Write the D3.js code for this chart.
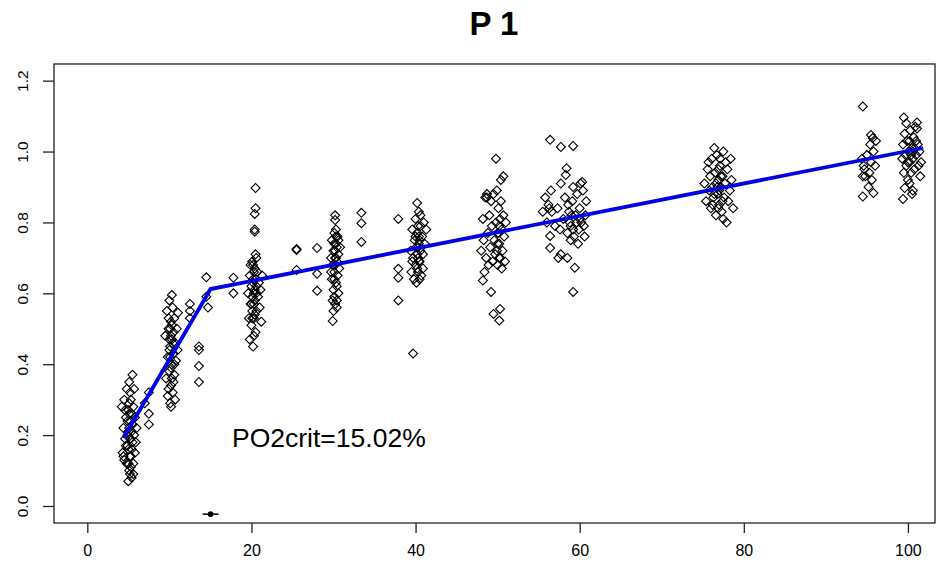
<!DOCTYPE html>
<html>
<head>
<meta charset="utf-8">
<script src="https://cdn.jsdelivr.net/npm/d3@7"></script>
<style>
  body { margin: 0; background: #fff; }
  text { font-family: "Liberation Sans", Arial, sans-serif; }
</style>
</head>
<body>
<div id="chart"></div>
<script>
// measured points, one list per oxygen level group [po2, rate]
var grp5 = [[4.2,0.28],[4.3,0.15],[4.4,0.22],[4.5,0.13],[4.5,0.3],[4.6,0.19],[4.7,0.25],[4.8,0.12],[4.8,0.33],[4.9,0.17],
  [5.0,0.21],[5.0,0.27],[5.1,0.1],[5.1,0.35],[5.2,0.14],[5.2,0.24],[5.3,0.19],[5.3,0.3],[5.4,0.08],[5.4,0.16],
  [5.5,0.23],[5.5,0.37],[5.6,0.12],[5.6,0.28],[5.7,0.2],[5.7,0.33],[5.8,0.15],[5.8,0.25],[5.9,0.18],[6.0,0.22],
  [4.6,0.27],[5.0,0.07],[5.2,0.32],[5.4,0.26],[4.9,0.2],[5.1,0.29],[4.4,0.14],[5.6,0.09],[5.3,0.11],[5.5,0.18],
  [5.0,0.16],[5.1,0.22],[5.2,0.19],[4.9,0.24],[5.3,0.14],[5.0,0.12],[5.4,0.21],[4.7,0.17],[5.1,0.26],[5.2,0.09],
  [7.5,0.32],[7.5,0.26],[7.5,0.23],[7.0,0.29]];
var grp10 = [[9.5,0.48],[9.6,0.36],[9.7,0.55],[9.8,0.42],[9.8,0.31],[9.9,0.5],[10.0,0.38],[10.0,0.58],[10.1,0.45],[10.1,0.29],
  [10.2,0.52],[10.2,0.34],[10.3,0.47],[10.3,0.4],[10.4,0.56],[10.4,0.32],[10.5,0.49],[10.5,0.43],[10.6,0.37],[10.6,0.53],
  [10.7,0.46],[10.7,0.3],[10.8,0.41],[10.9,0.5],[11.0,0.44],[9.9,0.33],[10.0,0.47],[10.3,0.595],[10.6,0.4],[10.2,0.28],
  [10.1,0.5],[10.2,0.48],[10.3,0.51],[10.0,0.44],[10.4,0.46],[10.1,0.42],[10.2,0.39],[10.5,0.35],[9.9,0.53],[10.3,0.36],
  [11.05,0.545],[12.5,0.57],[12.5,0.55],[12.5,0.53],[13.6,0.45],[13.6,0.44],[13.6,0.395],[13.6,0.35],
  [14.5,0.645],[14.5,0.59],[14.7,0.56],[17.8,0.644],[17.8,0.6]];
var grp20 = [[20.5,0.897],[20.5,0.84],[20.4,0.824],[20.4,0.78],[20.4,0.774],
  [19.6,0.6],[19.7,0.53],[19.8,0.65],[19.8,0.47],[19.9,0.57],[20.0,0.62],[20.0,0.51],[20.1,0.69],[20.1,0.55],[20.2,0.64],
  [20.2,0.45],[20.3,0.6],[20.3,0.53],[20.4,0.67],[20.4,0.58],[20.5,0.71],[20.5,0.49],[20.6,0.62],[20.6,0.55],[20.7,0.66],
  [20.8,0.59],[20.9,0.63],[21.0,0.56],[21.1,0.61],[21.2,0.52],[19.9,0.68],[20.3,0.48],[20.6,0.7],[21.3,0.65],[20.0,0.57],
  [20.2,0.63],[20.3,0.66],[20.4,0.61],[20.1,0.59],[20.5,0.64],[20.2,0.68],[20.3,0.57],[20.4,0.54],[20.1,0.53],[20.6,0.6],
  [25.5,0.722],[25.5,0.725],[25.5,0.666],[28.0,0.728],[28.0,0.655],[28.0,0.607]];
var grp30 = [[30.2,0.82],[30.2,0.807],[29.7,0.7],[29.8,0.64],[29.8,0.75],[29.9,0.58],[29.9,0.68],[30.0,0.72],[30.0,0.61],[30.1,0.77],
  [30.1,0.66],[30.2,0.57],[30.2,0.7],[30.3,0.74],[30.3,0.63],[30.4,0.69],[30.4,0.56],[30.5,0.76],[30.5,0.65],[30.6,0.71],
  [30.6,0.6],[30.7,0.67],[30.8,0.73],[30.0,0.55],[30.1,0.59],[30.3,0.78],[29.9,0.522],[30.4,0.62],[29.7,0.66],[30.6,0.75],
  [30.2,0.72],[30.3,0.7],[30.1,0.74],[30.4,0.73],[30.2,0.68],[30.3,0.76],[30.1,0.64],[30.4,0.58],
  [33.4,0.827],[33.4,0.798],[33.4,0.745],[37.9,0.81],[37.9,0.669],[37.9,0.644],[37.9,0.58]];
var grp40 = [[39.4,0.72],[39.5,0.66],[39.6,0.78],[39.7,0.43],[39.7,0.7],[39.8,0.64],[39.9,0.75],[40.0,0.68],[40.0,0.81],[40.1,0.73],
  [40.1,0.63],[40.2,0.77],[40.3,0.7],[40.3,0.66],[40.4,0.83],[40.4,0.74],[40.5,0.69],[40.6,0.79],[40.6,0.72],[40.7,0.65],
  [40.8,0.76],[40.9,0.71],[41.0,0.8],[41.1,0.74],[41.3,0.78],[40.2,0.855],[39.6,0.69],[40.5,0.64],[40.9,0.67],[40.0,0.76],
  [40.3,0.73],[40.4,0.76],[40.2,0.71],[40.5,0.75],[40.3,0.79],[40.4,0.69],[40.6,0.82],[40.2,0.67]];
var grp50 = [[49.8,0.98],[50.7,0.93],[50.4,0.92],[48.2,0.81],[48.2,0.636],[49.2,0.604],[50.3,0.556],[49.5,0.542],[50.2,0.523],
  [48.0,0.72],[48.3,0.75],[48.5,0.87],[48.6,0.7],[48.8,0.77],[48.9,0.68],[49.0,0.82],[49.1,0.73],[49.3,0.79],[49.4,0.69],
  [49.5,0.88],[49.6,0.75],[49.7,0.71],[49.8,0.8],[50.0,0.77],[50.0,0.68],[50.1,0.84],[50.2,0.74],[50.3,0.7],[50.4,0.86],
  [50.5,0.78],[50.6,0.72],[50.7,0.82],[50.8,0.76],[50.9,0.69],[51.0,0.8],[48.4,0.66],[49.9,0.89],[50.5,0.67],[49.2,0.86],
  [48.7,0.88],[48.7,0.87],[50.1,0.77],[50.2,0.79],[50.0,0.74],[50.3,0.81],[49.9,0.72],[50.2,0.7]];
var grp60 = [[56.4,1.033],[57.7,1.013],[59.2,1.016],[58.4,0.953],[58.3,0.934],[57.7,0.91],[59.2,0.9],[60.3,0.914],[56.4,0.762],[56.4,0.728],
  [57.4,0.7],[57.7,0.71],[58.5,0.7],[59.4,0.672],[59.2,0.604],
  [55.5,0.83],[55.8,0.87],[56.0,0.8],[56.2,0.85],[56.5,0.89],[56.6,0.83],[57.0,0.79],[57.3,0.84],[57.6,0.78],[58.0,0.81],
  [58.2,0.87],[58.5,0.77],[58.7,0.83],[58.9,0.79],[59.1,0.86],[59.3,0.76],[59.5,0.82],[59.7,0.88],[59.9,0.78],[60.0,0.84],
  [60.2,0.8],[60.4,0.89],[60.6,0.76],[60.7,0.82],[60.8,0.86],[59.8,0.74],[60.1,0.91],[58.9,0.75],[56.3,0.84],[60.5,0.79],
  [58.8,0.8],[59.0,0.82],[59.2,0.78],[58.6,0.85],[60.0,0.81],[59.6,0.8]];
var grp77 = [[75.2,0.91],[75.4,0.86],[75.6,0.95],[75.8,0.89],[75.9,0.93],[76.0,0.84],[76.1,0.98],[76.2,0.9],[76.3,0.87],[76.5,0.94],
  [76.6,0.82],[76.7,0.99],[76.8,0.88],[76.9,0.92],[77.0,0.85],[77.1,0.96],[77.2,0.9],[77.3,0.83],[77.4,0.93],[77.5,1.0],
  [77.6,0.87],[77.7,0.91],[77.9,0.8],[78.0,0.95],[78.1,0.86],[78.3,0.89],[78.5,0.92],[78.7,0.84],[76.4,1.01],[77.8,0.97],
  [75.7,0.97],[76.9,0.95],[77.5,0.81],[78.4,0.98],[76.2,0.85],
  [76.8,0.9],[77.0,0.89],[76.6,0.91],[77.2,0.93],[76.4,0.88],[77.4,0.86],[76.9,0.84],[77.1,0.98]];
var grp95 = [[94.5,1.127],[95.5,1.047],[95.7,1.038],[94.5,0.873],[95.8,0.883],
  [94.4,0.98],[94.5,0.93],[94.6,0.96],[94.7,0.95],[95.0,0.99],[95.3,0.94],[95.4,1.02],[95.5,0.97],[95.6,0.92],[95.8,1.0],
  [96.0,0.96],[96.1,1.03],[95.2,0.9],[94.8,0.93]];
var grp100 = [[99.5,1.096],[101.1,1.082],[99.4,0.866],[99.6,0.897],[100.6,0.89],
  [99.3,0.98],[99.4,1.02],[99.5,0.94],[99.6,1.05],[99.7,0.99],[99.8,0.96],[99.9,1.03],[100.0,0.92],[100.1,1.0],[100.2,0.97],
  [100.3,1.06],[100.4,0.94],[100.5,1.01],[100.6,0.98],[100.7,1.04],[100.8,0.95],[100.9,1.07],[101.0,0.99],[101.2,1.02],[101.3,0.96],
  [101.4,1.0],[101.5,0.93],[101.6,0.97],[100.2,0.91],[99.8,1.08],[101.1,1.065],[100.5,0.88],
  [100.4,0.99],[100.6,1.0],[100.2,1.03],[100.8,1.01],[100.0,0.97],[101.0,1.03]];

// broken-stick fit and the critical PO2 estimate
var fitX = [4.4, 15.02, 101.85];
var fitY = [0.192, 0.612, 1.01];
var crit = { x: 15.02, lo: 14.05, hi: 15.99, y: -0.023 };

var xTicks = [0, 20, 40, 60, 80, 100];
var yTicks = [0, 0.2, 0.4, 0.6, 0.8, 1.0, 1.2];

var W = 938, H = 564;
var box = { left: 54, right: 935, top: 64, bottom: 523 };

var svg = d3.select("#chart").append("svg")
  .attr("width", W)
  .attr("height", H);

var x = d3.scaleLinear().domain([-4.06, 103.3]).range([box.left, box.right]);
var y = d3.scaleLinear().domain([-0.048, 1.247]).range([box.bottom, box.top]);

var allPts = [].concat(grp5, grp10, grp20, grp30, grp40, grp50, grp60, grp77, grp95, grp100);

// title
svg.append("text")
  .attr("x", 494)
  .attr("y", 35)
  .attr("text-anchor", "middle")
  .style("font-size", "33px")
  .style("font-weight", "bold")
  .text("P 1");

// open diamonds, R pch=5 style
var diamond = d3.symbol().type(d3.symbolSquare).size(40);
svg.append("g").selectAll("path")
  .data(allPts)
  .enter().append("path")
  .attr("d", diamond)
  .attr("transform", function(d) { return "translate(" + x(d[0]) + "," + y(d[1]) + ") rotate(45)"; })
  .attr("fill", "none")
  .attr("stroke", "#000")
  .attr("stroke-width", 1.1);

// fitted line
var fit = fitX.map(function(v, i) { return [v, fitY[i]]; });
svg.append("path")
  .datum(fit)
  .attr("d", d3.line().x(function(d) { return x(d[0]); }).y(function(d) { return y(d[1]); }))
  .attr("fill", "none")
  .attr("stroke", "#0000e6")
  .attr("stroke-width", 3.8);

// critical value with its interval
svg.append("line")
  .attr("x1", x(crit.lo)).attr("x2", x(crit.hi))
  .attr("y1", y(crit.y)).attr("y2", y(crit.y))
  .attr("stroke", "#000")
  .attr("stroke-width", 1.5);
svg.append("circle")
  .attr("cx", x(crit.x))
  .attr("cy", y(crit.y))
  .attr("r", 2.8)
  .attr("fill", "#000");

svg.append("text")
  .attr("x", 232)
  .attr("y", 447)
  .style("font-size", "26.5px")
  .text("PO2crit=" + crit.x.toFixed(2) + "%");

// plot frame
svg.append("rect")
  .attr("x", box.left)
  .attr("y", box.top)
  .attr("width", box.right - box.left)
  .attr("height", box.bottom - box.top)
  .attr("fill", "none")
  .attr("stroke", "#222")
  .attr("stroke-width", 1.3);

// x axis (R style: ticks below the frame)
var xAxis = svg.append("g")
  .attr("transform", "translate(0," + box.bottom + ")")
  .call(d3.axisBottom(x).tickValues(xTicks).tickSize(10).tickPadding(12).tickFormat(d3.format("d")));
xAxis.select(".domain").remove();
xAxis.selectAll("line").attr("stroke", "#222").attr("stroke-width", 1.3);
xAxis.selectAll("text").style("font-size", "16px").attr("fill", "#000")
  .style("font-family", "'Liberation Sans', Arial, sans-serif");

// y axis with rotated labels
var yAxis = svg.append("g")
  .attr("transform", "translate(" + box.left + ",0)")
  .call(d3.axisLeft(y).tickValues(yTicks).tickSize(11).tickFormat(d3.format(".1f")));
yAxis.select(".domain").remove();
yAxis.selectAll("line").attr("stroke", "#222").attr("stroke-width", 1.3);
yAxis.selectAll("text").remove();
yAxis.selectAll(".tick").append("text")
  .attr("transform", "translate(-26,0) rotate(-90)")
  .attr("text-anchor", "middle")
  .attr("fill", "#000")
  .style("font-size", "15.5px")
  .style("font-family", "'Liberation Sans', Arial, sans-serif")
  .text(function(d) { return d3.format(".1f")(d); });
</script>
</body>
</html>
